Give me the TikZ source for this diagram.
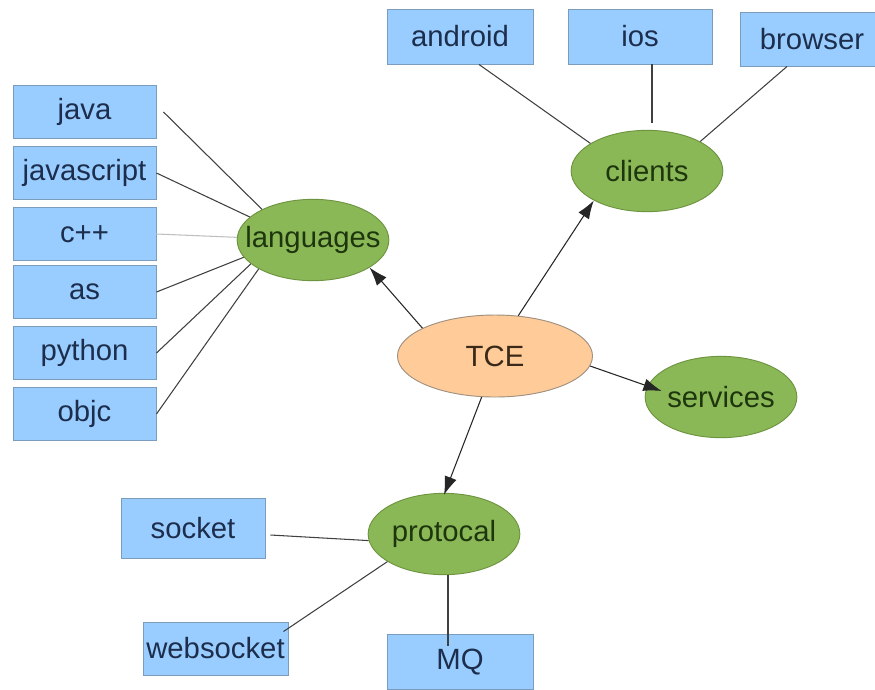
\documentclass[tikz,border=0pt]{standalone}
\usepackage{fontspec}
\setmainfont{Liberation Sans}
\usetikzlibrary{shapes.geometric,arrows.meta}
\definecolor{boxblue}{HTML}{99CCFF}
\definecolor{boxline}{HTML}{7C9CBC}
\definecolor{boxtext}{HTML}{1C2E4C}
\definecolor{leafgreen}{HTML}{8BB857}
\definecolor{leafline}{HTML}{6E9440}
\definecolor{leaftext}{HTML}{1E360E}
\definecolor{peach}{HTML}{FFCC99}
\definecolor{peachline}{HTML}{A09080}
\definecolor{peachtext}{HTML}{3A2818}
\tikzset{
  item/.style={
    shape = rectangle,
    draw = boxline,
    fill = boxblue,
    text = boxtext,
    line width = 0.8pt,
    minimum width = 4.29cm,
    minimum height = 1.59cm,
    inner sep = 0pt
  },
  group/.style={
    shape = ellipse,
    draw = leafline,
    fill = leafgreen,
    text = leaftext,
    line width = 0.8pt,
    minimum width = 4.55cm,
    minimum height = 2.44cm,
    inner xsep = -1.5cm,
    inner ysep = 0pt
  },
  core/.style={
    shape = ellipse,
    draw = peachline,
    fill = peach,
    text = peachtext,
    line width = 0.8pt,
    minimum width = 5.85cm,
    minimum height = 2.46cm,
    inner sep = 0pt
  },
  link/.style={
    draw = black!75,
    line width = 0.9pt
  },
  flow/.style={
    draw = black!85,
    line width = 0.9pt,
    -{Latex[length=0.55cm,width=0.38cm]}
  },
  every picture/.style = {
    font=\fontsize{25pt}{29pt}\selectfont
  }
}

\begin{document}
\begin{tikzpicture}[x=0.03cm,y=-0.03cm]
  \useasboundingbox (0,0) rectangle (875,689);
  \fill[white] (0,0) rectangle (875,689);

  % centre and the four groups
  \node[core] (tce) at (495,356) {TCE};
  \node[group] (languages) at (313,240) {languages};
  \node[group] (clients) at (647,171) {clients};
  \node[group] (services) at (721,397) {services};
  \node[group] (protocal) at (444,534) {protocal};

  % languages
  \node[item] (java) at (84.5,112) {java};
  \node[item] (javascript) at (84.5,173) {javascript};
  \node[item] (cpp) at (84.5,234) {c++};
  \node[item] (as) at (84.5,292) {as};
  \node[item] (python) at (84.5,353) {python};
  \node[item] (objc) at (84.5,414) {objc};

  % clients
  \node[item, minimum width=4.38cm, minimum height=1.65cm] (android) at (460,36.5) {android};
  \node[item, minimum width=4.32cm, minimum height=1.65cm] (ios) at (640,36.5) {ios};
  \node[item, minimum width=4.32cm, minimum height=1.62cm] (browser) at (812,39) {browser};

  % protocal
  \node[item, minimum width=4.32cm, minimum height=1.8cm] (socket) at (193,528) {socket};
  \node[item, minimum width=4.35cm] (websocket) at (215.5,648.5) {websocket};
  \node[item, minimum width=4.38cm, minimum height=1.65cm] (mq) at (460,662) {MQ};

  \draw[link] ([shift={(7,0)}]java.east) -- (languages.149);
  \draw[link] (javascript.east) -- (languages.160);
  \draw[link, draw=black!25] (cpp.east) -- (languages.178);
  \draw[link] (as.east) -- (languages.194);
  \draw[link] (python.east) -- (languages.201);
  \draw[link] (objc.east) -- (languages.208);

  \draw[link] ([shift={(19,0)}]android.south) -- (clients.154);
  \draw[link] ([shift={(12,0)}]ios.south) -- ([shift={(5,-7)}]clients.north);
  \draw[link] ([shift={(-25,0)}]browser.south) -- (clients.29);

  \draw[link] ([shift={(5,7)}]socket.east) -- (protocal.185);
  \draw[link] ([shift={(-5,10)}]websocket.north east) -- (protocal.206);
  \draw[link] ([shift={(4,0)}]protocal.south) -- ([shift={(-12,12)}]mq.north);

  \draw[flow] (tce.159) -- (languages.334);
  \draw[flow] (tce.60) -- (clients.209);
  \draw[flow] (tce.-6) -- ([shift={(17,-6)}]services.west);
  \draw[flow] (tce.252) -- ([shift={(0,2)}]protocal.north);
\end{tikzpicture}
\end{document}
